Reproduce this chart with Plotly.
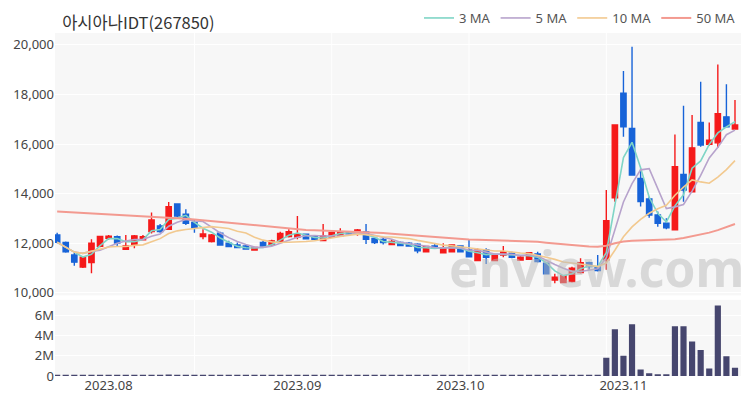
import pandas as pd
import plotly.graph_objects as go

holidays = ["2023-08-15", "2023-09-28", "2023-09-29", "2023-10-02", "2023-10-03", "2023-10-09"]
days = [d for d in pd.bdate_range("2023-07-24", "2023-11-20").strftime("%Y-%m-%d") if d not in holidays]

open_ = [12340, 12030, 11530, 11040, 11220, 11880, 12200, 12270, 11760, 11930,
         12140, 12470, 12700, 12570, 13590, 13170, 12840, 12270, 12070, 12410,
         12000, 11930, 11890, 11730, 12030, 11920, 12070, 12270, 12250, 12370,
         12300, 12110, 12250, 12300, 12460, 12380, 12460, 12200, 12160, 11950,
         12030, 12000, 11960, 11660, 11890, 11620, 11660, 11890, 11730, 11300,
         11730, 11300, 11530, 11600, 11330, 11360, 11570, 11200, 10520, 10420,
         10460, 10820, 11220, 11060, 11340, 13840, 18050, 16630, 14620, 13790,
         13140, 12810, 12540, 14780, 14080, 16870, 15990, 16050, 17100, 16610]
high = [12430, 12070, 11610, 11490, 12160, 12300, 12340, 12320, 12340, 12340,
        12340, 13240, 12780, 13670, 13620, 13370, 12940, 12570, 12380, 12470,
        12100, 12030, 11970, 11850, 12100, 12140, 12470, 12570, 13100, 12400,
        12340, 12780, 12470, 12610, 12500, 12580, 12780, 12250, 12250, 12160,
        12070, 12050, 12000, 11900, 11970, 12000, 11950, 11920, 12160, 11800,
        11800, 11560, 11890, 11660, 11530, 11650, 11660, 11240, 10770, 10720,
        11060, 11400, 11260, 11530, 14150, 16770, 18950, 19930, 15020, 13880,
        13280, 13010, 16390, 17550, 17170, 18510, 16870, 19210, 18410, 17780]
low = [12000, 11620, 11100, 11000, 10790, 11840, 12140, 11870, 11730, 11800,
       12120, 12400, 12430, 12540, 13050, 12740, 12430, 12160, 12030, 11900,
       11840, 11800, 11740, 11710, 11870, 11900, 12030, 12230, 12160, 12160,
       12140, 12080, 12230, 12270, 12350, 12300, 11970, 11970, 11950, 11930,
       11890, 11870, 11600, 11640, 11780, 11600, 11640, 11640, 11430, 11280,
       11170, 11280, 11440, 11400, 11300, 11340, 11230, 10740, 10390, 10400,
       10420, 10780, 10930, 10860, 10930, 13680, 16300, 14750, 13480, 13030,
       12670, 12570, 12540, 13680, 14080, 15890, 15930, 15850, 16700, 16600]
close = [12040, 11660, 11240, 11440, 12000, 12280, 12290, 12010, 11890, 12300,
         12270, 12940, 12470, 13480, 13100, 12810, 12630, 12380, 12340, 11930,
         11870, 11830, 11770, 11830, 11890, 12100, 12400, 12470, 12370, 12180,
         12160, 12300, 12430, 12460, 12380, 12540, 12160, 12030, 12030, 12080,
         11910, 11890, 11700, 11870, 11800, 11800, 11930, 11660, 11460, 11730,
         11440, 11530, 11660, 11440, 11440, 11620, 11260, 10770, 10630, 10690,
         11000, 11220, 11060, 10900, 12910, 16770, 16700, 14750, 13680, 13140,
         12810, 12630, 15090, 14150, 15850, 15960, 16160, 17230, 16700, 16770]
volume = [60000, 50000, 70000, 60000, 90000, 50000, 40000, 40000, 40000, 50000,
          40000, 120000, 60000, 150000, 90000, 60000, 50000, 40000, 30000, 40000,
          30000, 30000, 30000, 30000, 30000, 30000, 40000, 40000, 90000, 40000,
          30000, 60000, 30000, 30000, 20000, 30000, 50000, 30000, 30000, 20000,
          20000, 20000, 40000, 30000, 20000, 30000, 30000, 30000, 40000, 30000,
          40000, 30000, 40000, 30000, 20000, 30000, 40000, 60000, 50000, 40000,
          60000, 50000, 40000, 60000, 1800000, 4600000, 2000000, 5100000, 650000, 260000,
          170000, 170000, 4900000, 4900000, 3400000, 2550000, 750000, 6950000, 1950000, 800000]
ma50 = [13280, 13262, 13245, 13226, 13208, 13190, 13171, 13152, 13133, 13114,
        13096, 13077, 13058, 13040, 13020, 12990, 12958, 12925, 12893, 12860,
        12826, 12793, 12760, 12726, 12693, 12660, 12626, 12593, 12560, 12540,
        12525, 12512, 12500, 12492, 12485, 12478, 12470, 12445, 12418, 12390,
        12362, 12335, 12308, 12280, 12250, 12222, 12192, 12165, 12155, 12145,
        12135, 12125, 12112, 12100, 12088, 12075, 12060, 12025, 11990, 11955,
        11920, 11895, 11875, 11860, 11900, 12000, 12070, 12100, 12115, 12125,
        12135, 12145, 12165, 12210, 12280, 12350, 12430, 12530, 12640, 12780]

month_ticks = ["2023-08-01", "2023-09-01", "2023-10-04", "2023-11-01"]
month_labels = ["2023.08", "2023.09", "2023.10", "2023.11"]

cs = pd.Series(close)
ma3 = cs.rolling(3, min_periods=1).mean()
ma5 = cs.rolling(5, min_periods=1).mean()
ma10 = cs.rolling(10, min_periods=1).mean()

UP = "#f51a1a"
DOWN = "#1763d8"

fig = go.Figure()
fig.add_trace(go.Candlestick(
    x=days, open=open_, high=high, low=low, close=close,
    increasing=dict(line=dict(color=UP, width=1.4), fillcolor=UP),
    decreasing=dict(line=dict(color=DOWN, width=1.4), fillcolor=DOWN),
    whiskerwidth=0, showlegend=False, xaxis="x", yaxis="y"))

for name, vals, col, w in [("3 MA", ma3, "#7fd5c6", 1.6), ("5 MA", ma5, "#b7a3cc", 1.6),
                           ("10 MA", ma10, "#f2c98f", 1.6), ("50 MA", ma50, "#f39a90", 2)]:
    fig.add_trace(go.Scatter(x=days, y=list(vals), mode="lines", name=name,
                             line=dict(color=col, width=w), xaxis="x", yaxis="y"))

fig.add_trace(go.Bar(x=days, y=volume, marker=dict(color="#46466e", line=dict(width=0)),
                     showlegend=False, xaxis="x2", yaxis="y2"))

grid_cats = [days[i] for i in (16, 32, 48, 64)]
shapes = []
for g in grid_cats:
    for yr in ("y domain", "y2 domain"):
        shapes.append(dict(type="line", xref="x", yref=yr, x0=g, x1=g, y0=0, y1=1,
                           line=dict(color="white", width=1), layer="below"))

font = "Noto Sans CJK KR, Noto Sans, sans-serif"
tickfont = dict(size=13, color="#444", family="Noto Sans, sans-serif")
# the page body adds an 8px offset, so the figure is drawn 8px smaller
fig.update_layout(
    width=742, height=392,
    margin=dict(l=47, r=9, t=25, b=24, autoexpand=False),
    paper_bgcolor="white", plot_bgcolor="#f7f7f7",
    font=dict(family=font, size=11, color="#444"),
    title=dict(text="아시아나IDT(267850)", x=0.073, xref="container", xanchor="left",
               y=0.962, yref="container", yanchor="middle",
               font=dict(size=16.5, color="#333", family=font)),
    showlegend=True,
    legend=dict(orientation="h", x=1.0, xanchor="right", y=1.0, yanchor="bottom",
                font=dict(size=13, color="#555", family="Noto Sans, sans-serif"),
                bgcolor="rgba(0,0,0,0)", itemwidth=30, traceorder="normal"),
    bargap=0.28,
    boxgap=0.35, boxgroupgap=0.05,
    xaxis=dict(type="category", categoryorder="array", categoryarray=days,
               range=[-0.25, 79.7], showticklabels=False, showgrid=False,
               rangeslider=dict(visible=False), zeroline=False, anchor="y",
               tickvals=month_ticks, automargin=False),
    yaxis=dict(domain=[0.235, 1.0], range=[9900, 20480], tickvals=[10000, 12000, 14000, 16000, 18000, 20000],
               tickformat=",", gridcolor="white", gridwidth=1, zeroline=False, ticks="",
               tickfont=tickfont, automargin=False),
    xaxis2=dict(type="category", categoryorder="array", categoryarray=days, matches="x",
                anchor="y2", tickvals=month_ticks, ticktext=month_labels, showgrid=False,
                ticks="", tickfont=tickfont, automargin=False),
    yaxis2=dict(domain=[0.0, 0.222], range=[0, 7.5e6], tickvals=[0, 2e6, 4e6, 6e6],
                tickformat="~s", gridcolor="white", zeroline=False, ticks="",
                tickfont=tickfont, automargin=False),
    shapes=shapes,
    annotations=[dict(text="enview.com", xref="paper", yref="paper", x=0.79, y=0.315,
                      xanchor="center", yanchor="middle", showarrow=False,
                      font=dict(size=50, color="rgba(185,185,185,0.5)", weight="bold",
                                family="Noto Sans, sans-serif"))],
)

fig.write_html("out.html")
